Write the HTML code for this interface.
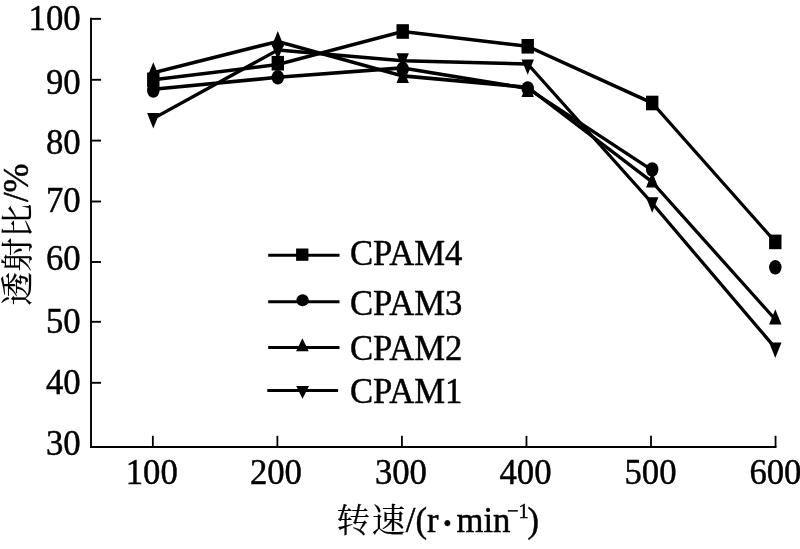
<!DOCTYPE html>
<html lang="zh"><head><meta charset="utf-8"><title>chart</title>
<style>
html,body{margin:0;padding:0;background:#fff;}
svg{display:block;}
text{font-family:"Liberation Serif","Noto Serif CJK SC",serif;font-size:34.7px;fill:#000;stroke:#000;stroke-width:0.45px;}
.cj{font-family:"Noto Serif CJK SC","Liberation Serif",serif;font-size:34px;stroke-width:0.15px;}
</style></head><body>
<svg width="800" height="549" viewBox="0 0 800 549">
<rect width="800" height="549" fill="#fff"/>

<g stroke="#000" stroke-width="1.9" fill="none" stroke-linecap="butt">
<path d="M91 17.85V448.05"/>
<path d="M90 447.05H776.5"/>
<path d="M91 18.85H101"/>
<path d="M91 79.80H101"/>
<path d="M91 140.60H101"/>
<path d="M91 201.50H101"/>
<path d="M91 262.00H101"/>
<path d="M91 321.80H101"/>
<path d="M91 382.80H101"/>
<path d="M152.85 447V435.8" stroke-width="1.8"/>
<path d="M277.39 447V435.8" stroke-width="1.8"/>
<path d="M401.93 447V435.8" stroke-width="1.8"/>
<path d="M526.47 447V435.8" stroke-width="1.8"/>
<path d="M651.01 447V435.8" stroke-width="1.8"/>
<path d="M775.55 447V435.8" stroke-width="1.8"/>
</g>
<g transform="scale(1 1.19)" stroke="#000" stroke-width="3.00" fill="none" stroke-linejoin="round">
<polyline points="153.3,67.06 277.8,54.20 402.7,26.47 527.7,38.91 652.2,86.55 775.3,203.28"/>
<polyline points="153.3,75.04 277.8,64.96 402.7,57.06 527.7,74.37 652.2,143.03"/>
<polyline points="153.3,61.18 277.8,34.79 402.7,63.78 527.7,73.28 652.2,152.94 775.3,268.49"/>
<polyline points="153.3,99.58 277.8,42.02 402.7,51.01 527.7,53.78 652.2,170.84 775.3,292.44"/>
</g>
<g fill="#000">
<rect x="147.1" y="72.5" width="12.4" height="14.6"/>
<ellipse cx="153.3" cy="90.5" rx="6.25" ry="7.3"/>
<path d="M153.3 62.2L159.5 77.6H147.1Z"/>
<path d="M153.3 128.5L159.5 113.1H147.1Z"/>
<rect x="271.6" y="55.9" width="12.4" height="14.6"/>
<ellipse cx="277.8" cy="77.3" rx="6.25" ry="7.3"/>
<path d="M277.8 31.1L284.0 46.5H271.6Z"/>
<path d="M277.8 60.0L284.0 44.6H271.6Z"/>
<rect x="396.5" y="24.2" width="12.4" height="14.6"/>
<ellipse cx="402.7" cy="69.0" rx="6.25" ry="7.3"/>
<path d="M402.7 67.6L408.9 83.0H396.5Z"/>
<path d="M402.7 68.6L408.9 53.2H396.5Z"/>
<rect x="521.5" y="39.0" width="12.4" height="14.6"/>
<ellipse cx="527.7" cy="88.5" rx="6.25" ry="7.3"/>
<path d="M527.7 81.7L533.9 97.1H521.5Z"/>
<path d="M527.7 74.8L533.9 59.4H521.5Z"/>
<rect x="646.0" y="95.7" width="12.4" height="14.6"/>
<ellipse cx="652.2" cy="169.5" rx="6.25" ry="7.3"/>
<path d="M652.2 172.0L658.4 187.4H646.0Z"/>
<path d="M652.2 212.7L658.4 197.3H646.0Z"/>
<rect x="769.1" y="234.6" width="12.4" height="14.6"/>
<ellipse cx="775.3" cy="267.3" rx="6.25" ry="7.3"/>
<path d="M775.3 309.2L781.5 324.6H769.1Z"/>
<path d="M775.3 358.0L781.5 342.6H769.1Z"/>
</g>
<g stroke="#000" stroke-width="3" fill="none">
<path d="M268.2 255.2H339.5"/>
<path d="M268.2 301.7H339.5"/>
<path d="M268.2 347.6H339.5"/>
<path d="M267.3 390.6H338.1"/>
</g><g fill="#000">
<rect x="296.1" y="248.5" width="12.3" height="12.3"/>
<ellipse cx="302.6" cy="300.3" rx="6.2" ry="6.0"/>
<path d="M302.4 338.2L308.7 351.3H296.1Z"/>
<path d="M302.5 398.8L309.0 386.0H296.2Z"/>
</g>
<text transform="translate(349.9 265.2) scale(1 1.035)">CPAM4</text>
<text transform="translate(349.9 314.7) scale(1 1.035)">CPAM3</text>
<text transform="translate(349.9 360.0) scale(1 1.035)">CPAM2</text>
<text transform="translate(349.9 403.0) scale(1 1.035)">CPAM1</text>
<text transform="translate(80.6 29.8) scale(1 1.035)" text-anchor="end">100</text>
<text transform="translate(80.6 94.1) scale(1 1.035)" text-anchor="end">90</text>
<text transform="translate(80.6 154.1) scale(1 1.035)" text-anchor="end">80</text>
<text transform="translate(80.6 212.3) scale(1 1.035)" text-anchor="end">70</text>
<text transform="translate(80.6 269.8) scale(1 1.035)" text-anchor="end">60</text>
<text transform="translate(80.6 332.7) scale(1 1.035)" text-anchor="end">50</text>
<text transform="translate(80.6 393.7) scale(1 1.035)" text-anchor="end">40</text>
<text transform="translate(80.6 455.0) scale(1 1.035)" text-anchor="end">30</text>
<text transform="translate(151.7 483.5) scale(1 1.035)" text-anchor="middle">100</text>
<text transform="translate(275.9 483.5) scale(1 1.035)" text-anchor="middle">200</text>
<text transform="translate(400.9 483.5) scale(1 1.035)" text-anchor="middle">300</text>
<text transform="translate(525.5 483.5) scale(1 1.035)" text-anchor="middle">400</text>
<text transform="translate(650.5 483.5) scale(1 1.035)" text-anchor="middle">500</text>
<text transform="translate(775.4 483.5) scale(1 1.035)" text-anchor="middle">600</text>
<text class="cj" transform="translate(28.6 305.7) rotate(-90) scale(1 0.96)">透射比</text>
<text transform="translate(28.0 202.1) rotate(-90) scale(1 1.035)">/%</text>
<text class="cj" style="font-size:33.5px" x="336.5" y="531.8">转</text>
<text class="cj" style="font-size:33.5px" x="371.8" y="531.8">速</text>
<text transform="translate(405.8 531.5) scale(1 1.035)">/(r</text>
<text transform="translate(439.8 538.8) scale(1 1.035)" style="font-size:46px">·</text>
<text transform="translate(456.5 531.5) scale(1 1.035)">min</text>
<text transform="translate(507.0 518.0) scale(1 1.035)" style="font-size:20.5px">−1</text>
<text transform="translate(527.4 531.5) scale(1 1.035)">)</text>
</svg></body></html>
